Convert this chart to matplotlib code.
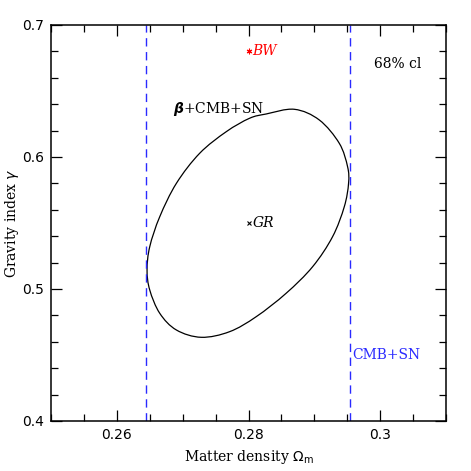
import numpy as np
import matplotlib
matplotlib.use("Agg")
import matplotlib.pyplot as plt
from matplotlib.ticker import MultipleLocator
from matplotlib.path import Path
from matplotlib.patches import PathPatch

# Data
contour_om = [0.26459, 0.26500, 0.26652, 0.26905, 0.27258, 0.27662, 0.28015, 0.28268,
              0.28697, 0.29076, 0.29379, 0.29505, 0.29520, 0.29455, 0.29277, 0.28974,
              0.28571, 0.28117, 0.27712, 0.27283, 0.26905, 0.26652, 0.26500]
contour_gamma = [0.51439, 0.53205, 0.55477, 0.58008, 0.60280, 0.61917, 0.62932, 0.63258,
                 0.63614, 0.62803, 0.61038, 0.59265, 0.58008, 0.56235, 0.53962, 0.51689,
                 0.49674, 0.47902, 0.46765, 0.46341, 0.46894, 0.48159, 0.49924]
cmbsn_bounds = [0.2644, 0.2954]
bw_point = (0.28, 0.68)
gr_point = (0.28, 0.55)

fig = plt.figure(figsize=(4.71, 4.71), dpi=100)
ax = fig.add_axes([51/471, 50/471, 395/471, 396/471])

ax.set_xlim(0.25, 0.31)
ax.set_ylim(0.4, 0.7)

# smooth closed curve through the contour points (Catmull-Rom as cubic Bezier)
P = np.column_stack([contour_om, contour_gamma])
n = len(P)
verts = [tuple(P[0])]
codes = [Path.MOVETO]
for i in range(n):
    p0, p1, p2, p3 = P[(i - 1) % n], P[i], P[(i + 1) % n], P[(i + 2) % n]
    c1 = p1 + (p2 - p0) / 6.0
    c2 = p2 - (p3 - p1) / 6.0
    verts += [tuple(c1), tuple(c2), tuple(p2)]
    codes += [Path.CURVE4] * 3
ax.add_patch(PathPatch(Path(verts, codes), facecolor='none', edgecolor='black', lw=0.9))

for xb in cmbsn_bounds:
    ax.axvline(xb, color='#2a2aff', lw=1.0, dashes=(6, 4))

ax.plot([bw_point[0]], [bw_point[1]], marker=(6, 2, 0), color='red', ms=4, mew=0.8)
ax.text(bw_point[0] + 0.0006, bw_point[1], 'BW', color='red', style='italic',
        family='DejaVu Serif', fontsize=10, va='center', ha='left')
ax.plot([gr_point[0]], [gr_point[1]], marker='x', color='black', ms=3, mew=0.8)
ax.text(gr_point[0] + 0.0006, gr_point[1], 'GR', color='black', style='italic',
        family='DejaVu Serif', fontsize=10, va='center', ha='left')

ax.text(0.2685, 0.6365, r'$\boldsymbol{\beta}$+CMB+SN', family='DejaVu Serif',
        fontsize=10, va='center', ha='left')
ax.text(0.2990, 0.6705, '68% cl', family='DejaVu Serif', fontsize=10, va='center', ha='left')
ax.text(0.2958, 0.4500, 'CMB+SN', color='#2a2aff', family='DejaVu Serif', fontsize=10,
        va='center', ha='left')

ax.xaxis.set_minor_locator(MultipleLocator(0.005))
ax.yaxis.set_minor_locator(MultipleLocator(0.02))
ax.set_xticks([0.26, 0.28, 0.30])
ax.set_xticklabels(['0.26', '0.28', '0.3'])
ax.set_yticks([0.4, 0.5, 0.6, 0.7])
ax.set_yticklabels(['0.4', '0.5', '0.6', '0.7'])
ax.tick_params(which='both', direction='in', top=True, right=True, width=0.9, labelsize=10, pad=5)
ax.tick_params(which='major', length=8)
ax.tick_params(which='minor', length=5)
for s in ax.spines.values():
    s.set_linewidth(1.1)

ax.set_xlabel(r'Matter density $\Omega_\mathrm{m}$', family='DejaVu Serif', fontsize=10, labelpad=4)
ax.set_ylabel(r'Gravity index $\gamma$', family='DejaVu Serif', fontsize=10, labelpad=1)

fig.savefig('out.png', dpi=100)
